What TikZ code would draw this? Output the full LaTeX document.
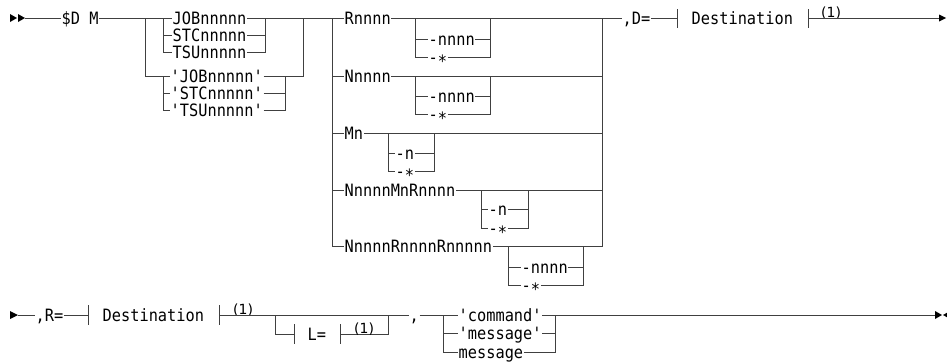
\documentclass[tikz,border=0pt]{standalone}
\usepackage{fontspec}
\newfontfamily\rrmono[Ligatures=TeXOff,FakeStretch=0.9]{DejaVu Sans Mono}
\newfontfamily\rrsans{DejaVu Sans}
\begin{document}
\begin{tikzpicture}[x=1pt,y=-1pt,
  rail/.style={line width=1pt, draw=black!75},
  lbl/.style={font=\rrmono\fontsize{17}{18}\selectfont, inner xsep=0.5pt, inner ysep=0pt, text height=13pt, text depth=0pt, anchor=west},
  note/.style={font=\rrsans\fontsize{14}{15}\selectfont, inner sep=0pt, anchor=base west},
  tip/.style={fill=black, draw=none},
]
\useasboundingbox (0,0) rectangle (947,362);

% ---------------- Row 1 ----------------
\fill[tip] (10,14) -- (17,18) -- (10,22) -- cycle;
\fill[tip] (18,14) -- (25,18) -- (18,22) -- cycle;
\coordinate (s1) at (25,18);
\node[lbl] (dm) at (61,18) {\$D M};
\draw[rail] (s1) -- (dm.west);

% group A
\coordinate (AL) at (145,18);
\coordinate (AR) at (303,18);
\coordinate (A1L) at (163,18);
\coordinate (A1R) at (265,18);
\coordinate (A2L) at (163,76);
\coordinate (A2R) at (285,76);
\node[lbl] (job) at (172,18) {JOBnnnnn};
\node[lbl] (stc) at (172,35) {STCnnnnn};
\node[lbl] (tsu) at (172,52) {TSUnnnnn};
\node[lbl] (qjob) at (170,76) {'JOBnnnnn'};
\node[lbl] (qstc) at (170,93) {'STCnnnnn'};
\node[lbl] (qtsu) at (170,110) {'TSUnnnnn'};
\draw[rail] (dm.east) -- (job.west);
\draw[rail] (AL) |- (qjob.west);
\draw[rail] (A1L) |- (stc.west);
\draw[rail] (A1L) |- (tsu.west);
\draw[rail] (stc.east) -| (A1R);
\draw[rail] (tsu.east) -| (A1R);
\draw[rail] (A2L) |- (qstc.west);
\draw[rail] (A2L) |- (qtsu.west);
\draw[rail] (qstc.east) -| (A2R);
\draw[rail] (qtsu.east) -| (A2R);
\draw[rail] (qjob.east) -| (AR);

% group B
\coordinate (BL) at (332,18);
\coordinate (BR) at (602,18);
\node[lbl] (rn) at (344,18) {Rnnnn};
\node[lbl] (nn) at (344,76) {Nnnnn};
\node[lbl] (mn) at (344,133) {Mn};
\node[lbl] (nmr) at (344,190) {NnnnnMnRnnnn};
\node[lbl] (nrr) at (344,246) {NnnnnRnnnnRnnnnn};
\draw[rail] (job.east) -- (rn.west);
\draw[rail] (BL) |- (nn.west);
\draw[rail] (BL) |- (mn.west);
\draw[rail] (BL) |- (nmr.west);
\draw[rail] (BL) |- (nrr.west);
\draw[rail] (nn.east) -| (BR);
\draw[rail] (mn.east) -| (BR);
\draw[rail] (nmr.east) -| (BR);
\draw[rail] (nrr.east) -| (BR);

% sub B1
\coordinate (B1L) at (415,18);
\coordinate (B1R) at (490,18);
\node[lbl] (r1) at (428,39) {-nnnn};
\node[lbl] (r2) at (428,57) {-\raisebox{-4pt}{*}};
\draw[rail] (B1L) |- (r1.west);
\draw[rail] (B1L) |- (r2.west);
\draw[rail] (r1.east) -| (B1R);
\draw[rail] (r2.east) -| (B1R);
% sub B2
\coordinate (B2L) at (415,76);
\coordinate (B2R) at (490,76);
\node[lbl] (n1) at (428,96) {-nnnn};
\node[lbl] (n2) at (428,114) {-\raisebox{-4pt}{*}};
\draw[rail] (B2L) |- (n1.west);
\draw[rail] (B2L) |- (n2.west);
\draw[rail] (n1.east) -| (B2R);
\draw[rail] (n2.east) -| (B2R);
% sub B3
\coordinate (B3L) at (388,133);
\coordinate (B3R) at (434,133);
\node[lbl] (m1) at (395,153) {-n};
\node[lbl] (m2) at (395,171) {-\raisebox{-4pt}{*}};
\draw[rail] (B3L) |- (m1.west);
\draw[rail] (B3L) |- (m2.west);
\draw[rail] (m1.east) -| (B3R);
\draw[rail] (m2.east) -| (B3R);
% sub B4
\coordinate (B4L) at (481,190);
\coordinate (B4R) at (528,190);
\node[lbl] (x1) at (488,209) {-n};
\node[lbl] (x2) at (488,228) {-\raisebox{-4pt}{*}};
\draw[rail] (B4L) |- (x1.west);
\draw[rail] (B4L) |- (x2.west);
\draw[rail] (x1.east) -| (B4R);
\draw[rail] (x2.east) -| (B4R);
% sub B5
\coordinate (B5L) at (508,246);
\coordinate (B5R) at (583,246);
\node[lbl] (y1) at (521,267) {-nnnn};
\node[lbl] (y2) at (521,285) {-\raisebox{-4pt}{*}};
\draw[rail] (B5L) |- (y1.west);
\draw[rail] (B5L) |- (y2.west);
\draw[rail] (y1.east) -| (B5R);
\draw[rail] (y2.east) -| (B5R);

% D= Destination
\node[lbl] (dq) at (622,18) {,D=};
\draw[rail] (rn.east) -- (dq.west);
\coordinate (bar1) at (677,18);
\coordinate (bar1t) at (677,9);
\coordinate (bar1b) at (677,28);
\node[lbl] (dest1) at (691,18) {Destination};
\coordinate (bar2) at (808,18);
\coordinate (bar2t) at (808,9);
\coordinate (bar2b) at (808,28);
\draw[rail] (dq.east) -- (bar1);
\draw[rail] (bar1t) -- (bar1b);
\draw[rail] (bar2t) -- (bar2b);
\node[note] (f1) at (821,17) {(1)};
\coordinate (e1) at (939,18);
\draw[rail] (bar2) -- (e1);
\fill[tip] (939,14.5) -- (946,18) -- (939,21.5) -- cycle;

% ---------------- Row 2 ----------------
\fill[tip] (10,311) -- (18,315) -- (10,319) -- cycle;
\coordinate (s2) at (18,315);
\node[lbl] (rq) at (35,315) {,R=};
\draw[rail] (s2) -- (rq.west);
\coordinate (bar3) at (88,315);
\coordinate (bar3t) at (88,305);
\coordinate (bar3b) at (88,325);
\node[lbl] (dest2) at (102,315) {Destination};
\coordinate (bar4) at (219,315);
\coordinate (bar4t) at (219,305);
\coordinate (bar4b) at (219,325);
\draw[rail] (rq.east) -- (bar3);
\draw[rail] (bar3t) -- (bar3b);
\draw[rail] (bar4t) -- (bar4b);
\node[note] (f2) at (233,314) {(1)};

% optional L=
\coordinate (LL) at (275,315);
\coordinate (LR) at (388,315);
\coordinate (bar5) at (294,334);
\coordinate (bar5t) at (294,324);
\coordinate (bar5b) at (294,344);
\node[lbl] (leq) at (307,334) {L=};
\coordinate (bar6) at (340,334);
\coordinate (bar6t) at (340,324);
\coordinate (bar6b) at (340,344);
\draw[rail] (LL) |- (bar5);
\draw[rail] (bar5t) -- (bar5b);
\draw[rail] (bar6t) -- (bar6b);
\draw[rail] (bar6) -| (LR);
\node[note] (f3) at (354,333) {(1)};

% comma and message choice
\node[lbl] (cm) at (409,315) {,};
\draw[rail] (bar4) -- (cm.west);
\coordinate (CL) at (443,315);
\coordinate (CR) at (555,315);
\node[lbl] (cmd) at (458,315) {'command'};
\node[lbl] (msg1) at (458,333) {'message'};
\node[lbl] (msg2) at (458,352) {message};
\draw[rail] (cm.east) -- (cmd.west);
\draw[rail] (CL) |- (msg1.west);
\draw[rail] (CL) |- (msg2.west);
\draw[rail] (msg1.east) -| (CR);
\draw[rail] (msg2.east) -| (CR);
\coordinate (e2) at (935,315);
\draw[rail] (cmd.east) -- (e2);
\fill[tip] (935,311) -- (942,315) -- (935,319) -- cycle;
\fill[tip] (943,315) -- (950,311) -- (950,319) -- cycle;
\end{tikzpicture}
\end{document}
